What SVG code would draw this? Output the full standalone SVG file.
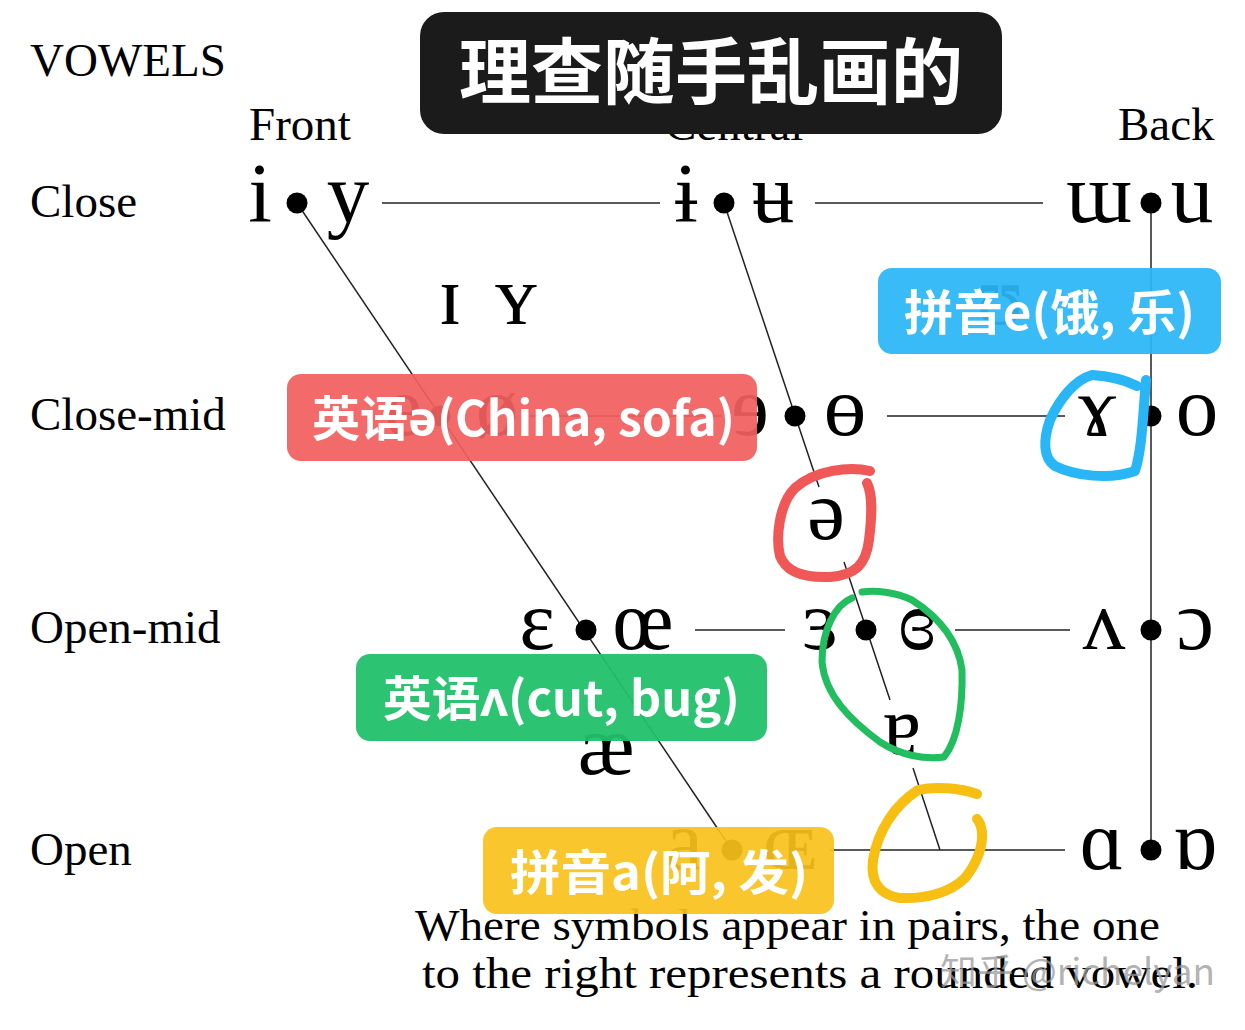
<svg xmlns="http://www.w3.org/2000/svg" width="1245" height="1030" viewBox="0 0 1245 1030">
<style>
.hd{font-family:"Liberation Serif","DejaVu Serif",serif;font-size:47px;fill:#000}
.sy{font-family:"Liberation Serif","DejaVu Serif",serif;font-size:85px;fill:#000;text-anchor:middle}
.ln{stroke:#222;stroke-width:1.5;fill:none}
.dot{fill:#000}
.lbl{font-family:"Noto Sans CJK SC","Noto Sans",sans-serif;font-size:48px;font-weight:700;fill:#fff}
.ttl{font-family:"Noto Sans CJK SC",sans-serif;font-size:72px;font-weight:700;fill:#fff;text-anchor:middle}
.note{font-family:"Liberation Serif","DejaVu Serif",serif;font-size:44px;fill:#000}
.mark{fill:none;stroke-linecap:round;stroke-linejoin:round}
</style>
<rect width="1245" height="1030" fill="#fff"/>

<g id="headings">
<text class="hd" x="30" y="76">VOWELS</text>
<text class="hd" x="249" y="140">Front</text>
<text class="hd" x="665" y="140">Central</text>
<text class="hd" x="1118" y="140">Back</text>
<text class="hd" x="30" y="217">Close</text>
<text class="hd" x="30" y="430">Close-mid</text>
<text class="hd" x="30" y="643">Open-mid</text>
<text class="hd" x="30" y="865">Open</text>
</g>

<g id="connectors">
<line class="ln" x1="382" y1="203" x2="660" y2="203"/>
<line class="ln" x1="815" y1="203" x2="1043" y2="203"/>
<line class="ln" x1="530" y1="416" x2="722" y2="416"/>
<line class="ln" x1="887" y1="416" x2="1065" y2="416"/>
<line class="ln" x1="695" y1="630" x2="785" y2="630"/>
<line class="ln" x1="955" y1="630" x2="1070" y2="630"/>
<line class="ln" x1="830" y1="850" x2="1065" y2="850"/>
<line class="ln" x1="297" y1="203" x2="732" y2="850"/>
<line class="ln" x1="724" y1="203" x2="819" y2="487"/>
<line class="ln" x1="844" y1="562" x2="890" y2="700"/>
<line class="ln" x1="913" y1="768" x2="940" y2="850"/>
<line class="ln" x1="1151" y1="203" x2="1151" y2="850"/>
</g>

<g id="close">
<text class="sy" x="260" y="222">i</text>
<circle class="dot" cx="297" cy="203" r="10.5"/>
<text class="sy" x="348" y="222">y</text>
<text class="sy" x="686" y="222">ɨ</text>
<circle class="dot" cx="724" cy="203" r="10.5"/>
<text class="sy" x="773" y="222">ʉ</text>
<text class="sy" x="1099" y="222">ɯ</text>
<circle class="dot" cx="1151" cy="203" r="10.5"/>
<text class="sy" x="1192" y="222">u</text>
</g>

<g id="near-close">
<text class="sy" x="450" y="324">ɪ</text>
<text class="sy" x="516" y="324">ʏ</text>
<text class="sy" x="1000" y="324">ʊ</text>
</g>

<g id="close-mid">
<text class="sy" x="403" y="435">e</text>
<circle class="dot" cx="440" cy="416" r="10.5"/>
<text class="sy" x="497" y="435">ø</text>
<text class="sy" x="750" y="435">ɘ</text>
<circle class="dot" cx="795" cy="416" r="10.5"/>
<text class="sy" x="845" y="435">ɵ</text>
<text class="sy" x="1097" y="435">ɤ</text>
<circle class="dot" cx="1151" cy="416" r="10.5"/>
<text class="sy" x="1197" y="435">o</text>
</g>

<g id="mid">
<text class="sy" x="826" y="539">ə</text>
</g>

<g id="open-mid">
<text class="sy" x="537" y="649">ɛ</text>
<circle class="dot" cx="586" cy="630" r="10.5"/>
<text class="sy" x="643" y="649">œ</text>
<text class="sy" x="820" y="649">ɜ</text>
<circle class="dot" cx="866" cy="630" r="10.5"/>
<text class="sy" x="917" y="649">ɞ</text>
<text class="sy" x="1104" y="649">ʌ</text>
<circle class="dot" cx="1151" cy="630" r="10.5"/>
<text class="sy" x="1195" y="649">ɔ</text>
</g>

<g id="near-open">
<text class="sy" x="606" y="774">æ</text>
<text class="sy" x="902" y="754">ɐ</text>
</g>

<g id="open">
<text class="sy" x="684" y="869">a</text>
<circle class="dot" cx="732" cy="850" r="10.5"/>
<text class="sy" x="790" y="869">ɶ</text>
<text class="sy" x="1102" y="869">ɑ</text>
<circle class="dot" cx="1151" cy="850" r="10.5"/>
<text class="sy" x="1195" y="869">ɒ</text>
</g>

<g id="note">
<text class="note" x="415" y="940" textLength="745" lengthAdjust="spacingAndGlyphs">Where symbols appear in pairs, the one</text>
<text class="note" x="422" y="988" textLength="776" lengthAdjust="spacingAndGlyphs">to the right represents a rounded vowel.</text>
</g>

<g id="title">
<rect x="420" y="12" width="582" height="122" rx="24" fill="#1b1b1b"/>
<text class="ttl" x="711" y="98">理查随手乱画的</text>
</g>

<g id="label-blue">
<rect x="878" y="268" width="343" height="86" rx="14" fill="#29b6f6" fill-opacity="0.93"/>
<text class="lbl" x="904" y="330" textLength="291" lengthAdjust="spacingAndGlyphs">拼音e(饿, 乐)</text>
</g>
<g id="label-red">
<rect x="287" y="374" width="470" height="87" rx="14" fill="#f25f5f" fill-opacity="0.93"/>
<text class="lbl" x="312" y="436" textLength="423" lengthAdjust="spacingAndGlyphs">英语ə(China, sofa)</text>
</g>
<g id="label-green">
<rect x="356" y="654" width="411" height="87" rx="14" fill="#21c16b" fill-opacity="0.95"/>
<text class="lbl" x="383" y="716" textLength="357" lengthAdjust="spacingAndGlyphs">英语ʌ(cut, bug)</text>
</g>
<g id="label-yellow">
<rect x="483" y="827" width="351" height="87" rx="14" fill="#f8c11c" fill-opacity="0.92"/>
<text class="lbl" x="510" y="890" textLength="298" lengthAdjust="spacingAndGlyphs">拼音a(阿, 发)</text>
</g>

<g id="marks">
<path class="mark" stroke="#29b6f6" stroke-width="10" d="M1137 386 C1125 380 1110 376 1092 375 C1075 380 1060 398 1050 420 C1043 440 1043 458 1055 466 C1075 476 1110 480 1135 471 C1142 450 1143 415 1146 380"/>
<path class="mark" stroke="#f05757" stroke-width="10" d="M870 471 C850 466 815 470 795 488 C778 505 776 540 780 556 C786 572 805 578 830 577 C855 575 866 565 869 540 C872 515 873 495 867 483"/>
<path class="mark" stroke="#22bd5e" stroke-width="7" d="M852 598 C835 605 822 630 822 662 C825 695 850 720 880 742 C900 755 925 760 944 757 C958 740 963 705 962 670 C958 640 940 618 912 600 C895 592 875 590 862 592"/>
<path class="mark" stroke="#f6bf12" stroke-width="10" d="M977 794 C960 788 935 786 918 790 C895 805 878 830 873 860 C870 882 880 895 900 898 C925 899 950 893 965 878 C978 862 983 845 982 832 C981 825 979 821 977 819"/>
</g>

<g id="watermark">
<text x="940" y="985" font-family="Noto Sans CJK SC, sans-serif" font-size="36" fill="#9a9a9a" fill-opacity="0.75" textLength="275" lengthAdjust="spacingAndGlyphs">知乎 @richelyan</text>
</g>
</svg>
